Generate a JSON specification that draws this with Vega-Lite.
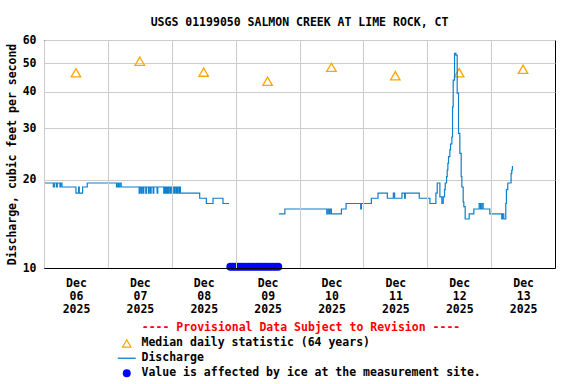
{
  "$schema": "https://vega.github.io/schema/vega-lite/v6.json",
  "width": 511,
  "height": 228,
  "autosize": {"type": "none"},
  "padding": {"left": 44, "top": 40, "right": 21, "bottom": 116},
  "background": "white",
  "title": {
    "text": "USGS 01199050 SALMON CREEK AT LIME ROCK, CT",
    "font": "DejaVu Sans Mono",
    "fontSize": 11.5,
    "fontWeight": "bold",
    "color": "black",
    "anchor": "middle",
    "frame": "group",
    "baseline": "alphabetic",
    "offset": -3
  },
  "datasets": {
    "median": [
      {"time": "2025-12-06T12:00:00Z", "value": 46.4, "series": "Median daily statistic (64 years)"},
      {"time": "2025-12-07T12:00:00Z", "value": 50.8, "series": "Median daily statistic (64 years)"},
      {"time": "2025-12-08T12:00:00Z", "value": 46.6, "series": "Median daily statistic (64 years)"},
      {"time": "2025-12-09T12:00:00Z", "value": 43.4, "series": "Median daily statistic (64 years)"},
      {"time": "2025-12-10T12:00:00Z", "value": 48.4, "series": "Median daily statistic (64 years)"},
      {"time": "2025-12-11T12:00:00Z", "value": 45.3, "series": "Median daily statistic (64 years)"},
      {"time": "2025-12-12T12:00:00Z", "value": 46.4, "series": "Median daily statistic (64 years)"},
      {"time": "2025-12-13T12:00:00Z", "value": 47.7, "series": "Median daily statistic (64 years)"}
    ],
    "discharge": [
      {"time": "2025-12-06T00:00:00Z", "value": 19.5, "seg": "a", "series": "Discharge"},
      {"time": "2025-12-06T03:30:00Z", "value": 18.9, "seg": "a", "series": "Discharge"},
      {"time": "2025-12-06T04:00:00Z", "value": 19.5, "seg": "a", "series": "Discharge"},
      {"time": "2025-12-06T04:45:00Z", "value": 18.9, "seg": "a", "series": "Discharge"},
      {"time": "2025-12-06T05:00:00Z", "value": 19.5, "seg": "a", "series": "Discharge"},
      {"time": "2025-12-06T06:00:00Z", "value": 18.9, "seg": "a", "series": "Discharge"},
      {"time": "2025-12-06T06:15:00Z", "value": 19.5, "seg": "a", "series": "Discharge"},
      {"time": "2025-12-06T06:45:00Z", "value": 18.9, "seg": "a", "series": "Discharge"},
      {"time": "2025-12-06T12:00:00Z", "value": 18.0, "seg": "a", "series": "Discharge"},
      {"time": "2025-12-06T13:00:00Z", "value": 18.9, "seg": "a", "series": "Discharge"},
      {"time": "2025-12-06T13:15:00Z", "value": 18.0, "seg": "a", "series": "Discharge"},
      {"time": "2025-12-06T14:30:00Z", "value": 18.9, "seg": "a", "series": "Discharge"},
      {"time": "2025-12-06T16:15:00Z", "value": 19.5, "seg": "a", "series": "Discharge"},
      {"time": "2025-12-07T03:15:00Z", "value": 18.9, "seg": "a", "series": "Discharge"},
      {"time": "2025-12-07T03:45:00Z", "value": 19.5, "seg": "a", "series": "Discharge"},
      {"time": "2025-12-07T04:00:00Z", "value": 18.9, "seg": "a", "series": "Discharge"},
      {"time": "2025-12-07T04:30:00Z", "value": 19.5, "seg": "a", "series": "Discharge"},
      {"time": "2025-12-07T05:00:00Z", "value": 18.9, "seg": "a", "series": "Discharge"},
      {"time": "2025-12-07T11:45:00Z", "value": 18.0, "seg": "a", "series": "Discharge"},
      {"time": "2025-12-07T12:00:00Z", "value": 18.9, "seg": "a", "series": "Discharge"},
      {"time": "2025-12-07T12:30:00Z", "value": 18.0, "seg": "a", "series": "Discharge"},
      {"time": "2025-12-07T12:45:00Z", "value": 18.9, "seg": "a", "series": "Discharge"},
      {"time": "2025-12-07T13:15:00Z", "value": 18.0, "seg": "a", "series": "Discharge"},
      {"time": "2025-12-07T13:30:00Z", "value": 18.9, "seg": "a", "series": "Discharge"},
      {"time": "2025-12-07T14:15:00Z", "value": 18.0, "seg": "a", "series": "Discharge"},
      {"time": "2025-12-07T14:30:00Z", "value": 18.9, "seg": "a", "series": "Discharge"},
      {"time": "2025-12-07T15:15:00Z", "value": 18.0, "seg": "a", "series": "Discharge"},
      {"time": "2025-12-07T15:30:00Z", "value": 18.9, "seg": "a", "series": "Discharge"},
      {"time": "2025-12-07T16:00:00Z", "value": 18.0, "seg": "a", "series": "Discharge"},
      {"time": "2025-12-07T16:15:00Z", "value": 18.9, "seg": "a", "series": "Discharge"},
      {"time": "2025-12-07T17:00:00Z", "value": 18.0, "seg": "a", "series": "Discharge"},
      {"time": "2025-12-07T17:15:00Z", "value": 18.9, "seg": "a", "series": "Discharge"},
      {"time": "2025-12-07T18:30:00Z", "value": 18.0, "seg": "a", "series": "Discharge"},
      {"time": "2025-12-07T18:45:00Z", "value": 18.9, "seg": "a", "series": "Discharge"},
      {"time": "2025-12-07T21:00:00Z", "value": 18.0, "seg": "a", "series": "Discharge"},
      {"time": "2025-12-07T21:15:00Z", "value": 18.9, "seg": "a", "series": "Discharge"},
      {"time": "2025-12-07T21:30:00Z", "value": 18.0, "seg": "a", "series": "Discharge"},
      {"time": "2025-12-07T21:45:00Z", "value": 18.9, "seg": "a", "series": "Discharge"},
      {"time": "2025-12-07T22:00:00Z", "value": 18.0, "seg": "a", "series": "Discharge"},
      {"time": "2025-12-07T22:15:00Z", "value": 18.9, "seg": "a", "series": "Discharge"},
      {"time": "2025-12-07T22:30:00Z", "value": 18.0, "seg": "a", "series": "Discharge"},
      {"time": "2025-12-07T22:45:00Z", "value": 18.9, "seg": "a", "series": "Discharge"},
      {"time": "2025-12-07T23:15:00Z", "value": 18.0, "seg": "a", "series": "Discharge"},
      {"time": "2025-12-07T23:30:00Z", "value": 18.9, "seg": "a", "series": "Discharge"},
      {"time": "2025-12-08T00:00:00Z", "value": 18.0, "seg": "a", "series": "Discharge"},
      {"time": "2025-12-08T00:15:00Z", "value": 18.9, "seg": "a", "series": "Discharge"},
      {"time": "2025-12-08T00:45:00Z", "value": 18.0, "seg": "a", "series": "Discharge"},
      {"time": "2025-12-08T01:00:00Z", "value": 18.9, "seg": "a", "series": "Discharge"},
      {"time": "2025-12-08T01:30:00Z", "value": 18.0, "seg": "a", "series": "Discharge"},
      {"time": "2025-12-08T01:45:00Z", "value": 18.9, "seg": "a", "series": "Discharge"},
      {"time": "2025-12-08T02:00:00Z", "value": 18.0, "seg": "a", "series": "Discharge"},
      {"time": "2025-12-08T02:15:00Z", "value": 18.9, "seg": "a", "series": "Discharge"},
      {"time": "2025-12-08T02:45:00Z", "value": 18.0, "seg": "a", "series": "Discharge"},
      {"time": "2025-12-08T03:00:00Z", "value": 18.9, "seg": "a", "series": "Discharge"},
      {"time": "2025-12-08T03:15:00Z", "value": 18.0, "seg": "a", "series": "Discharge"},
      {"time": "2025-12-08T10:30:00Z", "value": 17.3, "seg": "a", "series": "Discharge"},
      {"time": "2025-12-08T13:00:00Z", "value": 16.6, "seg": "a", "series": "Discharge"},
      {"time": "2025-12-08T15:30:00Z", "value": 17.3, "seg": "a", "series": "Discharge"},
      {"time": "2025-12-08T19:15:00Z", "value": 16.6, "seg": "a", "series": "Discharge"},
      {"time": "2025-12-08T21:30:00Z", "value": 16.6, "seg": "a", "series": "Discharge"},
      {"time": "2025-12-09T16:15:00Z", "value": 15.3, "seg": "b", "series": "Discharge"},
      {"time": "2025-12-09T18:30:00Z", "value": 15.9, "seg": "b", "series": "Discharge"},
      {"time": "2025-12-10T10:15:00Z", "value": 15.3, "seg": "b", "series": "Discharge"},
      {"time": "2025-12-10T10:45:00Z", "value": 15.9, "seg": "b", "series": "Discharge"},
      {"time": "2025-12-10T11:15:00Z", "value": 15.3, "seg": "b", "series": "Discharge"},
      {"time": "2025-12-10T11:30:00Z", "value": 15.9, "seg": "b", "series": "Discharge"},
      {"time": "2025-12-10T12:00:00Z", "value": 15.3, "seg": "b", "series": "Discharge"},
      {"time": "2025-12-10T15:45:00Z", "value": 15.9, "seg": "b", "series": "Discharge"},
      {"time": "2025-12-10T17:30:00Z", "value": 16.6, "seg": "b", "series": "Discharge"},
      {"time": "2025-12-10T23:00:00Z", "value": 15.9, "seg": "b", "series": "Discharge"},
      {"time": "2025-12-10T23:15:00Z", "value": 16.6, "seg": "b", "series": "Discharge"},
      {"time": "2025-12-11T03:00:00Z", "value": 17.3, "seg": "b", "series": "Discharge"},
      {"time": "2025-12-11T05:30:00Z", "value": 18.0, "seg": "b", "series": "Discharge"},
      {"time": "2025-12-11T09:00:00Z", "value": 17.3, "seg": "b", "series": "Discharge"},
      {"time": "2025-12-11T11:15:00Z", "value": 18.0, "seg": "b", "series": "Discharge"},
      {"time": "2025-12-11T11:45:00Z", "value": 17.3, "seg": "b", "series": "Discharge"},
      {"time": "2025-12-11T14:30:00Z", "value": 18.0, "seg": "b", "series": "Discharge"},
      {"time": "2025-12-11T15:30:00Z", "value": 17.3, "seg": "b", "series": "Discharge"},
      {"time": "2025-12-11T15:45:00Z", "value": 18.0, "seg": "b", "series": "Discharge"},
      {"time": "2025-12-11T21:00:00Z", "value": 17.3, "seg": "b", "series": "Discharge"},
      {"time": "2025-12-12T01:00:00Z", "value": 16.6, "seg": "b", "series": "Discharge"},
      {"time": "2025-12-12T03:15:00Z", "value": 18.0, "seg": "b", "series": "Discharge"},
      {"time": "2025-12-12T03:45:00Z", "value": 19.5, "seg": "b", "series": "Discharge"},
      {"time": "2025-12-12T04:45:00Z", "value": 17.5, "seg": "b", "series": "Discharge"},
      {"time": "2025-12-12T05:30:00Z", "value": 16.6, "seg": "b", "series": "Discharge"},
      {"time": "2025-12-12T06:00:00Z", "value": 17.5, "seg": "b", "series": "Discharge"},
      {"time": "2025-12-12T06:30:00Z", "value": 18.5, "seg": "b", "series": "Discharge"},
      {"time": "2025-12-12T06:45:00Z", "value": 19.5, "seg": "b", "series": "Discharge"},
      {"time": "2025-12-12T07:15:00Z", "value": 20.5, "seg": "b", "series": "Discharge"},
      {"time": "2025-12-12T07:30:00Z", "value": 21.6, "seg": "b", "series": "Discharge"},
      {"time": "2025-12-12T07:45:00Z", "value": 22.8, "seg": "b", "series": "Discharge"},
      {"time": "2025-12-12T08:00:00Z", "value": 24.0, "seg": "b", "series": "Discharge"},
      {"time": "2025-12-12T08:30:00Z", "value": 25.3, "seg": "b", "series": "Discharge"},
      {"time": "2025-12-12T08:45:00Z", "value": 26.5, "seg": "b", "series": "Discharge"},
      {"time": "2025-12-12T09:15:00Z", "value": 28.0, "seg": "b", "series": "Discharge"},
      {"time": "2025-12-12T09:30:00Z", "value": 35.5, "seg": "b", "series": "Discharge"},
      {"time": "2025-12-12T09:45:00Z", "value": 43.8, "seg": "b", "series": "Discharge"},
      {"time": "2025-12-12T10:15:00Z", "value": 54.0, "seg": "b", "series": "Discharge"},
      {"time": "2025-12-12T10:45:00Z", "value": 53.3, "seg": "b", "series": "Discharge"},
      {"time": "2025-12-12T11:15:00Z", "value": 39.5, "seg": "b", "series": "Discharge"},
      {"time": "2025-12-12T11:45:00Z", "value": 28.8, "seg": "b", "series": "Discharge"},
      {"time": "2025-12-12T12:15:00Z", "value": 24.6, "seg": "b", "series": "Discharge"},
      {"time": "2025-12-12T12:45:00Z", "value": 20.5, "seg": "b", "series": "Discharge"},
      {"time": "2025-12-12T13:00:00Z", "value": 18.9, "seg": "b", "series": "Discharge"},
      {"time": "2025-12-12T13:30:00Z", "value": 16.8, "seg": "b", "series": "Discharge"},
      {"time": "2025-12-12T13:45:00Z", "value": 16.2, "seg": "b", "series": "Discharge"},
      {"time": "2025-12-12T14:15:00Z", "value": 14.7, "seg": "b", "series": "Discharge"},
      {"time": "2025-12-12T15:45:00Z", "value": 15.3, "seg": "b", "series": "Discharge"},
      {"time": "2025-12-12T17:30:00Z", "value": 15.9, "seg": "b", "series": "Discharge"},
      {"time": "2025-12-12T19:30:00Z", "value": 16.6, "seg": "b", "series": "Discharge"},
      {"time": "2025-12-12T20:00:00Z", "value": 15.9, "seg": "b", "series": "Discharge"},
      {"time": "2025-12-12T20:30:00Z", "value": 16.6, "seg": "b", "series": "Discharge"},
      {"time": "2025-12-12T21:00:00Z", "value": 15.9, "seg": "b", "series": "Discharge"},
      {"time": "2025-12-12T23:30:00Z", "value": 15.3, "seg": "b", "series": "Discharge"},
      {"time": "2025-12-13T04:00:00Z", "value": 14.7, "seg": "b", "series": "Discharge"},
      {"time": "2025-12-13T04:15:00Z", "value": 15.3, "seg": "b", "series": "Discharge"},
      {"time": "2025-12-13T04:45:00Z", "value": 14.7, "seg": "b", "series": "Discharge"},
      {"time": "2025-12-13T05:30:00Z", "value": 16.6, "seg": "b", "series": "Discharge"},
      {"time": "2025-12-13T05:45:00Z", "value": 18.5, "seg": "b", "series": "Discharge"},
      {"time": "2025-12-13T06:15:00Z", "value": 19.5, "seg": "b", "series": "Discharge"},
      {"time": "2025-12-13T07:30:00Z", "value": 21.0, "seg": "b", "series": "Discharge"},
      {"time": "2025-12-13T07:45:00Z", "value": 21.6, "seg": "b", "series": "Discharge"},
      {"time": "2025-12-13T08:00:00Z", "value": 22.2, "seg": "b", "series": "Discharge"},
      {"time": "2025-12-13T08:15:00Z", "value": 22.2, "seg": "b", "series": "Discharge"}
    ],
    "ice": [
      {"time": "2025-12-08T22:00:00Z", "value": 10.1, "series": "Value is affected by ice at the measurement site."},
      {"time": "2025-12-08T23:00:00Z", "value": 10.1, "series": "Value is affected by ice at the measurement site."},
      {"time": "2025-12-09T00:00:00Z", "value": 10.1, "series": "Value is affected by ice at the measurement site."},
      {"time": "2025-12-09T01:00:00Z", "value": 10.1, "series": "Value is affected by ice at the measurement site."},
      {"time": "2025-12-09T02:00:00Z", "value": 10.1, "series": "Value is affected by ice at the measurement site."},
      {"time": "2025-12-09T03:00:00Z", "value": 10.1, "series": "Value is affected by ice at the measurement site."},
      {"time": "2025-12-09T04:00:00Z", "value": 10.1, "series": "Value is affected by ice at the measurement site."},
      {"time": "2025-12-09T05:00:00Z", "value": 10.1, "series": "Value is affected by ice at the measurement site."},
      {"time": "2025-12-09T06:00:00Z", "value": 10.1, "series": "Value is affected by ice at the measurement site."},
      {"time": "2025-12-09T07:00:00Z", "value": 10.1, "series": "Value is affected by ice at the measurement site."},
      {"time": "2025-12-09T08:00:00Z", "value": 10.1, "series": "Value is affected by ice at the measurement site."},
      {"time": "2025-12-09T09:00:00Z", "value": 10.1, "series": "Value is affected by ice at the measurement site."},
      {"time": "2025-12-09T10:00:00Z", "value": 10.1, "series": "Value is affected by ice at the measurement site."},
      {"time": "2025-12-09T11:00:00Z", "value": 10.1, "series": "Value is affected by ice at the measurement site."},
      {"time": "2025-12-09T12:00:00Z", "value": 10.1, "series": "Value is affected by ice at the measurement site."},
      {"time": "2025-12-09T13:00:00Z", "value": 10.1, "series": "Value is affected by ice at the measurement site."},
      {"time": "2025-12-09T14:00:00Z", "value": 10.1, "series": "Value is affected by ice at the measurement site."},
      {"time": "2025-12-09T15:00:00Z", "value": 10.1, "series": "Value is affected by ice at the measurement site."},
      {"time": "2025-12-09T16:00:00Z", "value": 10.1, "series": "Value is affected by ice at the measurement site."}
    ]
  },
  "encoding": {
    "x": {
      "field": "time",
      "type": "temporal",
      "scale": {
        "type": "utc",
        "domain": [
          {"year": 2025, "month": 12, "date": 6, "utc": true},
          {"year": 2025, "month": 12, "date": 14, "utc": true}
        ]
      },
      "axis": {
        "title": null,
        "values": [
          {"year": 2025, "month": 12, "date": 6, "utc": true},
          {"year": 2025, "month": 12, "date": 7, "utc": true},
          {"year": 2025, "month": 12, "date": 8, "utc": true},
          {"year": 2025, "month": 12, "date": 9, "utc": true},
          {"year": 2025, "month": 12, "date": 10, "utc": true},
          {"year": 2025, "month": 12, "date": 11, "utc": true},
          {"year": 2025, "month": 12, "date": 12, "utc": true},
          {"year": 2025, "month": 12, "date": 13, "utc": true}
        ],
        "labelExpr": "[utcFormat(datum.value, '%b'), utcFormat(datum.value, '%d'), utcFormat(datum.value, '%Y')]",
        "labelOffset": 32,
        "labelAlign": "center",
        "labelBaseline": "top",
        "labelLineHeight": 13,
        "labelPadding": 9,
        "labelFlush": false,
        "labelOverlap": false,
        "labelBound": false,
        "grid": true,
        "zindex": 1
      }
    },
    "y": {
      "field": "value",
      "type": "quantitative",
      "scale": {"type": "log", "domain": [10, 60], "nice": false},
      "axis": {
        "title": "Discharge, cubic feet per second",
        "values": [10, 20, 30, 40, 50, 60],
        "format": "d",
        "labelPadding": 8,
        "titlePadding": 5,
        "grid": true
      }
    },
    "color": {
      "field": "series",
      "type": "nominal",
      "scale": {
        "domain": ["Median daily statistic (64 years)", "Discharge", "Value is affected by ice at the measurement site."],
        "range": ["#ffa500", "#0d7fcb", "#0000ff"]
      },
      "legend": {
        "orient": "none",
        "legendX": 77,
        "legendY": 282,
        "direction": "vertical",
        "title": "---- Provisional Data Subject to Revision ----",
        "titleColor": "#ff0000",
        "titleFont": "DejaVu Sans Mono",
        "titleFontWeight": "bold",
        "titleFontSize": 11.5,
        "titleAnchor": "middle",
        "titleLimit": 600,
        "titlePadding": 4,
        "labelFont": "DejaVu Sans Mono",
        "labelFontWeight": "bold",
        "labelFontSize": 11.5,
        "labelColor": "black",
        "labelLimit": 600,
        "labelOffset": 9,
        "symbolSize": 100,
        "rowPadding": 2,
        "encode": {
          "symbols": {
            "update": {
              "shape": {"signal": "datum.value === 'Discharge' ? 'stroke' : datum.value === 'Median daily statistic (64 years)' ? 'M0,-0.9L1,0.85L-1,0.85Z M0,-0.45L-0.6,0.6L0.6,0.6Z' : 'circle'"},
              "size": {"signal": "datum.value === 'Discharge' ? 324 : datum.value === 'Median daily statistic (64 years)' ? 110 : 64"},
              "fill": {"signal": "datum.value === 'Value is affected by ice at the measurement site.' ? '#0000ff' : datum.value === 'Discharge' ? 'transparent' : '#ffa500'"},
              "stroke": {"signal": "datum.value === 'Discharge' ? '#0d7fcb' : 'transparent'"},
              "strokeWidth": {"signal": "datum.value === 'Discharge' ? 1.3 : 0"},
              "opacity": {"value": 1}
            }
          }
        }
      }
    }
  },
  "layer": [
    {
      "data": {"name": "median"},
      "mark": {"type": "point", "shape": "triangle-up", "filled": false, "size": 90, "strokeWidth": 1.3, "opacity": 1}
    },
    {
      "data": {"name": "discharge"},
      "mark": {"type": "line", "interpolate": "step-after", "strokeWidth": 1.2},
      "encoding": {"detail": {"field": "seg"}}
    },
    {
      "data": {"name": "ice"},
      "mark": {"type": "point", "shape": "circle", "filled": true, "size": 64, "strokeWidth": 0, "opacity": 1}
    }
  ],
  "config": {
    "font": "DejaVu Sans Mono",
    "view": {"stroke": "black", "strokeWidth": 1},
    "axis": {
      "labelFont": "DejaVu Sans Mono",
      "labelFontWeight": "bold",
      "labelFontSize": 11.5,
      "labelColor": "black",
      "titleFont": "DejaVu Sans Mono",
      "titleFontWeight": "bold",
      "titleFontSize": 11.5,
      "titleColor": "black",
      "gridColor": "#cccccc",
      "gridOpacity": 1,
      "domainColor": "black",
      "ticks": false
    }
  }
}
